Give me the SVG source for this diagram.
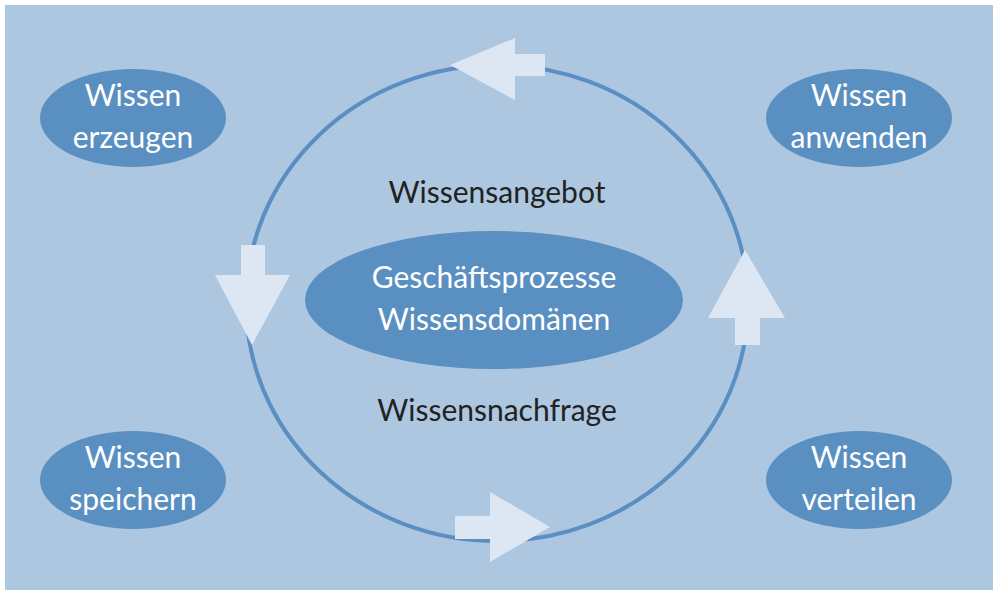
<svg xmlns="http://www.w3.org/2000/svg" width="1000" height="600" viewBox="0 0 1000 600">
<style>
.n{fill:#5a8fc1}
.t{font-family:Lato,"Noto Sans",sans-serif;font-size:30px;fill:#fff;text-anchor:middle}
.d{font-family:Lato,"Noto Sans",sans-serif;font-size:30px;fill:#222;text-anchor:middle}
.a{fill:#dde7f3}
</style>
<rect x="0" y="0" width="1000" height="600" fill="#fff"/>
<rect x="5" y="5" width="988" height="585" fill="#adc7e1"/>
<g id="connectors">
<ellipse cx="497" cy="303" rx="251" ry="238" fill="none" stroke="#5b8fc3" stroke-width="4"/>
<polygon class="a" points="545,54 515,54 515,38 450,65 515,100 515,76 545,76"/>
<polygon class="a" points="241,245 265,245 265,275 290,275 252,345 215,275 241,275"/>
<polygon class="a" points="735,345 760,345 760,318 785,318 745,250 708,318 735,318"/>
<polygon class="a" points="455,516 490,516 490,492 550,527 490,562 490,539 455,539"/>
</g>
<g id="erzeugen"><ellipse class="n" cx="133" cy="118" rx="93" ry="49"/><text class="t" x="133" y="106">Wissen</text><text class="t" x="133" y="148">erzeugen</text></g>
<g id="anwenden"><ellipse class="n" cx="859" cy="118" rx="93" ry="49"/><text class="t" x="859" y="106">Wissen</text><text class="t" x="859" y="148">anwenden</text></g>
<g id="speichern"><ellipse class="n" cx="133" cy="480" rx="93" ry="49"/><text class="t" x="133" y="468">Wissen</text><text class="t" x="133" y="510">speichern</text></g>
<g id="verteilen"><ellipse class="n" cx="859" cy="480" rx="93" ry="49"/><text class="t" x="859" y="468">Wissen</text><text class="t" x="859" y="510">verteilen</text></g>
<g id="center"><ellipse class="n" cx="494" cy="300" rx="189" ry="69"/><text class="t" x="494" y="288">Geschäftsprozesse</text><text class="t" x="494" y="330">Wissensdomänen</text></g>
<g id="angebot"><text class="d" x="497" y="203">Wissensangebot</text></g>
<g id="nachfrage"><text class="d" x="497" y="421">Wissensnachfrage</text></g>
</svg>
